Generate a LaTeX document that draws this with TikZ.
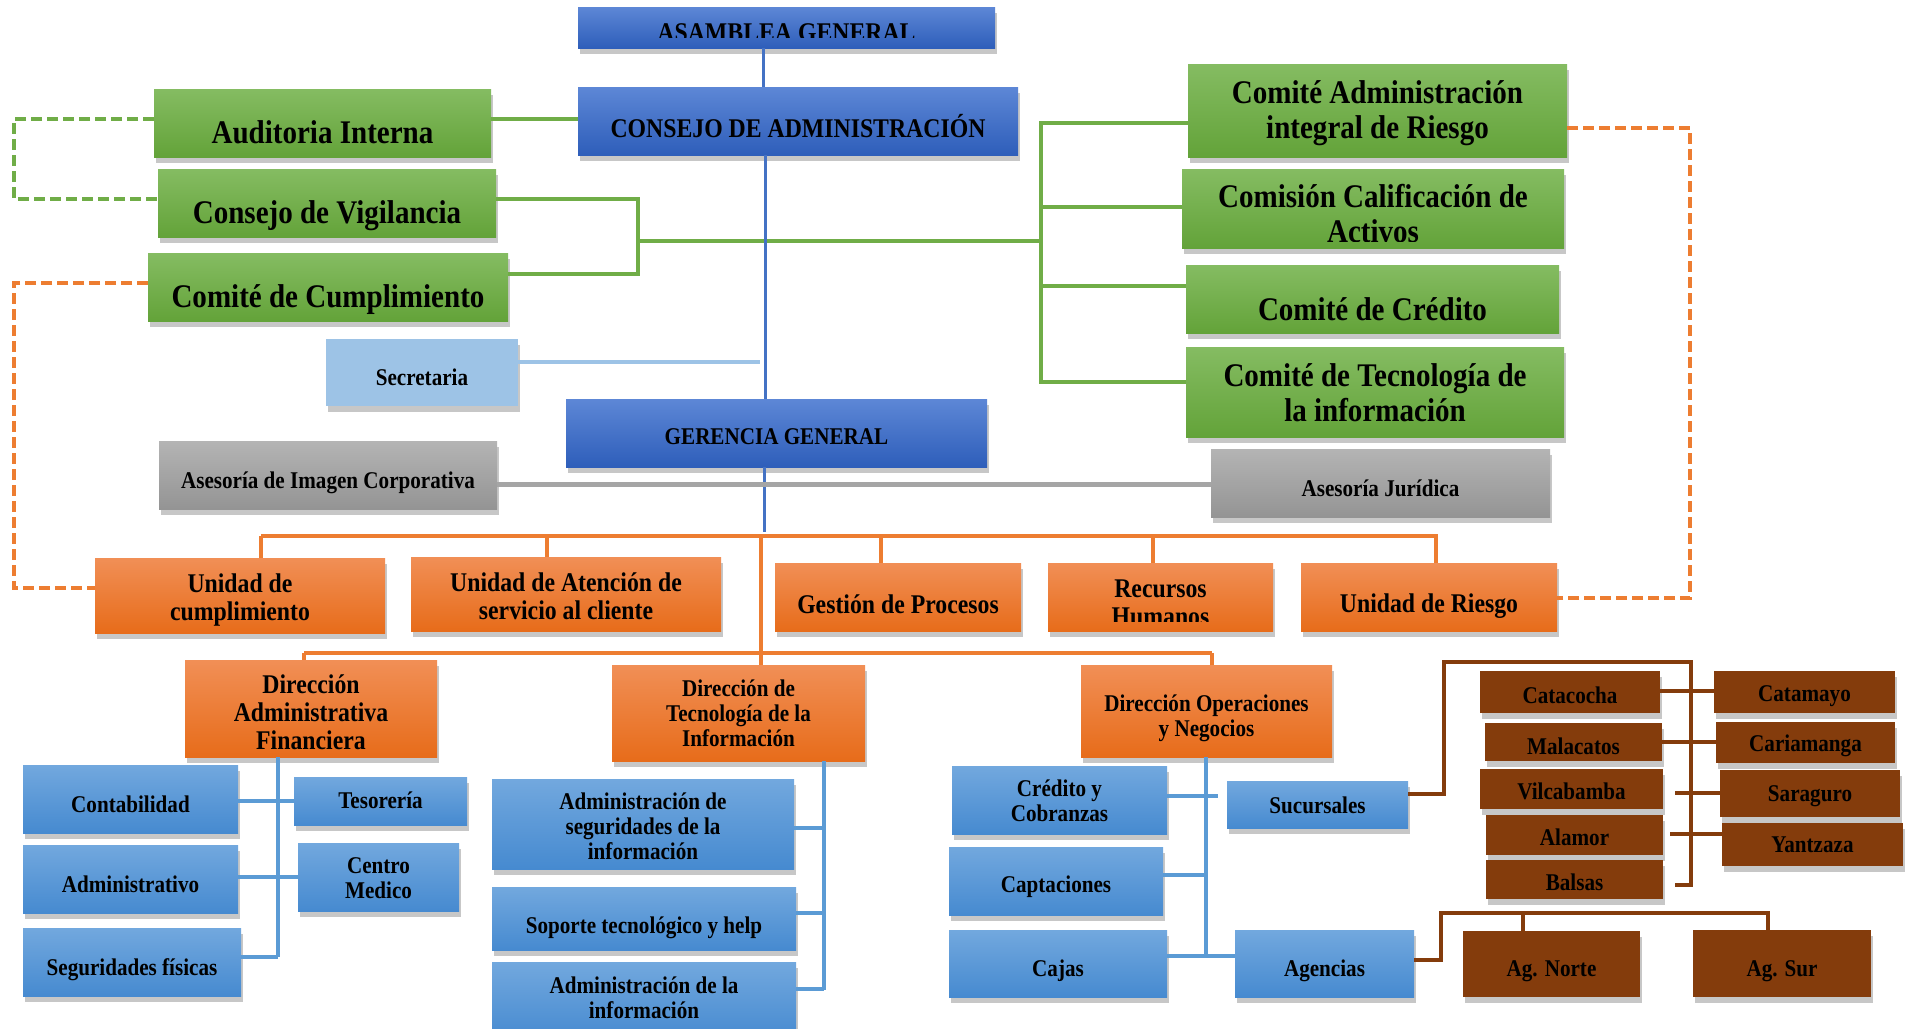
\documentclass[tikz,border=0pt]{standalone}
\usepackage{fontspec}
\setmainfont{Liberation Serif}[FakeStretch=0.88]
\usetikzlibrary{shadows}
\definecolor{dkT}{RGB}{93,135,214}
\definecolor{dkB}{RGB}{46,94,186}
\definecolor{dkL}{RGB}{68,114,196}
\definecolor{grT}{RGB}{133,188,98}
\definecolor{grB}{RGB}{99,163,57}
\definecolor{grL}{RGB}{112,173,71}
\definecolor{orT}{RGB}{241,143,86}
\definecolor{orB}{RGB}{231,108,26}
\definecolor{orL}{RGB}{237,125,49}
\definecolor{gyT}{RGB}{180,180,180}
\definecolor{gyB}{RGB}{148,148,148}
\definecolor{gyL}{RGB}{165,165,165}
\definecolor{mbT}{RGB}{114,168,222}
\definecolor{mbB}{RGB}{70,138,208}
\definecolor{mbL}{RGB}{91,155,213}
\definecolor{lbC}{RGB}{157,195,230}
\definecolor{brC}{RGB}{132,60,12}
\tikzset{
  shd/.style={drop shadow={shadow xshift=2pt,shadow yshift=-6pt,opacity=.22,fill=black}},
  boxbase/.style={shd, inner sep=0pt, outer sep=0pt},
  bdk/.style={boxbase, top color=dkT, bottom color=dkB},
  bgr/.style={boxbase, top color=grT, bottom color=grB},
  bor/.style={boxbase, top color=orT, bottom color=orB},
  bgy/.style={boxbase, top color=gyT, bottom color=gyB},
  bmb/.style={boxbase, top color=mbT, bottom color=mbB},
  blb/.style={boxbase, fill=lbC},
  bbr/.style={boxbase, fill=brC},
  txt/.style={inner sep=0pt, align=center, text=black},
  t33/.style={txt, font=\fontsize{33}{35}\selectfont\bfseries},
  t27/.style={txt, font=\fontsize{27}{28}\selectfont\bfseries},
  t24/.style={txt, font=\fontsize{24}{25}\selectfont\bfseries},
  lbd/.style={draw=dkL, line width=3pt},
  lg/.style={draw=grL, line width=4pt},
  lgd/.style={lg, dash pattern=on 11pt off 5pt},
  lo/.style={draw=orL, line width=3.5pt},
  lod/.style={lo, dash pattern=on 11pt off 5pt},
  llb/.style={draw=lbC, line width=4pt},
  lgy/.style={draw=gyL, line width=5pt},
  lmb/.style={draw=mbL, line width=3.5pt},
  lbr/.style={draw=brC, line width=4.5pt},
}
\newcommand\bxo[6]{\node[#6, minimum width={(#4-#2)*1pt}, minimum height={(#5-#3)*1pt}] (#1) at ({(#2+#4)/2},{(#3+#5)/2}) {};}
\newcommand\bx[9]{\bxo{#1}{#2}{#3}{#4}{#5}{#6}\node[#7] (#1t) at ({(#2+#4)/2},#8) {#9};}
\begin{document}
\begin{tikzpicture}[x=1pt,y=-1pt]
\useasboundingbox (0,0) rectangle (1910,1028);
\fill[white] (0,0) rectangle (1910,1028);
% --- top level
\bxo{asam}{578}{7}{995}{48}{bdk}
\begin{scope}\clip (578,7) rectangle (995,37);
\node[t27,anchor=base] (asamt) at (786.5,41) {ASAMBLEA GENERAL};
\end{scope}
\bx{cons}{578}{87}{1018}{155}{bdk}{t27}{126}{CONSEJO DE ADMINISTRACIÓN}
\bx{aud}{154}{89}{491}{157}{bgr}{t33}{132}{Auditoria Interna}
\bx{vig}{158}{169}{496}{237}{bgr}{t33}{216}{Consejo de Vigilancia}
\bx{cump}{148}{253}{508}{321}{bgr}{t33}{300}{Comité de Cumplimiento}
\bx{sec}{326}{339}{518}{406}{blb}{t24}{377}{Secretaria}
\bx{ger}{566}{399}{987}{467}{bdk}{t24}{437}{GERENCIA GENERAL}
\bx{asim}{159}{441}{497}{509}{bgy}{t24}{482.5}{Asesoría de Imagen Corporativa}
\bx{asjur}{1211}{449}{1550}{517}{bgy}{t24}{488}{Asesoría Jurídica}
\bx{cair}{1188}{64}{1567}{157}{bgr}{t33}{113}{Comité Administración\\integral de Riesgo}
\bxo{ccal}{1182}{169}{1564}{248}{bgr}
\begin{scope}\clip (1182,169) rectangle (1564,241);
\node[t33] (ccalt) at (1373,213.5) {Comisión Calificación de\\Activos};
\end{scope}
\bx{ccre}{1186}{265}{1559}{333}{bgr}{t33}{309}{Comité de Crédito}
\bx{ctec}{1186}{347}{1564}{437}{bgr}{t33}{393}{Comité de Tecnología de\\la información}
% --- orange level
\bx{ucum}{95}{558}{385}{633}{bor}{t27}{599.5}{Unidad de\\cumplimiento}
\bx{uat}{411}{557}{721}{631}{bor}{t27}{596}{Unidad de Atención de\\servicio al cliente}
\bx{gest}{775}{563}{1021}{631}{bor}{t27}{604}{Gestión de Procesos}
\bxo{rrhh}{1048}{563}{1273}{631}{bor}
\begin{scope}\clip (1048,563) rectangle (1273,621);
\node[t27] (rrhht) at (1160.5,602.5) {Recursos\\Humanos};
\end{scope}
\bx{uries}{1301}{563}{1557}{631}{bor}{t27}{606.5}{Unidad de Riesgo}
\bx{dadm}{185}{660}{437}{757}{bor}{t27}{712.5}{Dirección\\Administrativa\\Financiera}
\bx{dtec}{612}{665}{865}{761}{bor}{t24}{713}{Dirección de\\Tecnología de la\\Información}
\bx{dops}{1081}{665}{1332}{757}{bor}{t24}{718}{Dirección Operaciones\\y Negocios}
% --- blue lower level
\bx{cont}{23}{765}{238}{833}{bmb}{t24}{804.5}{Contabilidad}
\bx{adm}{23}{845}{238}{913}{bmb}{t24}{884.5}{Administrativo}
\bx{seg}{23}{928}{241}{996}{bmb}{t24}{969.5}{Seguridades físicas}
\bx{tes}{294}{777}{467}{825}{bmb}{t24}{800}{Tesorería}
\bx{cmed}{298}{843}{459}{911}{bmb}{t24}{878}{Centro\\Medico}
\bx{aseg}{492}{779}{794}{869}{bmb}{t24}{826.5}{Administración de\\seguridades de la\\información}
\bx{sop}{492}{887}{796}{950}{bmb}{t24}{928}{Soporte tecnológico y help}
\bx{ainf}{492}{962}{796}{1040}{bmb}{t24}{997.5}{Administración de la\\información}
\bx{cred}{952}{766}{1167}{834}{bmb}{t24}{801}{Crédito y\\Cobranzas}
\bx{capt}{949}{847}{1163}{915}{bmb}{t24}{887}{Captaciones}
\bx{cajas}{949}{930}{1167}{997}{bmb}{t24}{971}{Cajas}
\bx{suc}{1227}{781}{1408}{828}{bmb}{t24}{805}{Sucursales}
\bx{agen}{1235}{930}{1414}{997}{bmb}{t24}{971}{Agencias}
% --- brown
\bx{cata}{1480}{671}{1660}{713}{bbr}{t24}{695}{Catacocha}
\bx{catm}{1714}{671}{1895}{713}{bbr}{t24}{696}{Catamayo}
\bxo{mala}{1485}{723}{1662}{761}{bbr}
\begin{scope}\clip (1485,723) rectangle (1662,754);
\node[t24] (malat) at (1573.5,746) {Malacatos};
\end{scope}
\bx{cari}{1716}{722}{1895}{763}{bbr}{t24}{746}{Cariamanga}
\bx{vilc}{1480}{769}{1663}{809}{bbr}{t24}{791}{Vilcabamba}
\bx{sara}{1720}{770}{1900}{817}{bbr}{t24}{796}{Saraguro}
\bx{alam}{1486}{815}{1663}{855}{bbr}{t24}{837.5}{Alamor}
\bx{yan}{1722}{823}{1903}{866}{bbr}{t24}{845}{Yantzaza}
\bx{bals}{1486}{860}{1663}{899}{bbr}{t24}{882.5}{Balsas}
\bx{agn}{1463}{931}{1640}{997}{bbr}{t24}{971}{Ag. Norte}
\bx{agsur}{1693}{930}{1871}{997}{bbr}{t24}{971}{Ag. Sur}
% --- green connectors
\draw[lg] (aud.east |- 0,119) -- (cons.west |- 0,119);
\coordinate (gl1) at (638,199);
\coordinate (gl2) at (638,274);
\coordinate (gm) at (638,241);
\coordinate (gr) at (1041,241);
\draw[lg] (vig.east |- 0,199) -- (gl1) -- (gl2) -- (cump.east |- 0,274);
\draw[lg] (gm) -- (gr);
\draw[lg] (cair.west |- 0,123) -- (1041,123) -- (1041,382) -- (ctec.west |- 0,382);
\draw[lg] (1041,207) -- (ccal.west |- 0,207);
\draw[lg] (1041,286) -- (ccre.west |- 0,286);
\draw[lgd] (aud.west |- 0,119) -- (14,119) -- (14,199) -- (vig.west |- 0,199);
% --- dashed orange
\draw[lod] (cump.west |- 0,283) -- (14,283) -- (14,588) -- (ucum.west |- 0,588);
\draw[lod] (cair.east |- 0,128) -- (1690,128) -- (1690,598) -- (uries.east |- 0,598);
% --- blue spine
\draw[lbd] (asam.south -| 763,0) -- (cons.north -| 763,0);
\draw[lbd] (cons.south -| 765,0) -- (ger.north -| 765,0);
\draw[lbd] (ger.south -| 764,0) -- (764,532);
% --- secretaria & advisors
\draw[llb] (sec.east |- 0,362) -- (760,362);
\draw[lgy] (asim.east |- 0,484) -- (asjur.west |- 0,484);
% --- orange buses
\draw[lo] (261,536) -- (1438,536);
\draw[lo] (ucum.north -| 261,0) -- (261,536);
\draw[lo] (uat.north -| 547,0) -- (547,536);
\draw[lo] (gest.north -| 881,0) -- (881,536);
\draw[lo] (rrhh.north -| 1153,0) -- (1153,536);
\draw[lo] (uries.north -| 1436,0) -- (1436,536);
\draw[lo] (761,536) -- (761,653);
\draw[lo] (304,653) -- (1212,653);
\draw[lo] (dadm.north -| 304,0) -- (304,653);
\draw[lo] (dtec.north -| 761,0) -- (761,653);
\draw[lo] (dops.north -| 1212,0) -- (1212,653);
% --- lower blue connectors
\draw[lmb] (dadm.south -| 278,0) -- (278,957);
\draw[lmb] (cont.east |- 0,801) -- (tes.west |- 0,801);
\draw[lmb] (adm.east |- 0,877) -- (cmed.west |- 0,877);
\draw[lmb] (seg.east |- 0,957) -- (278,957);
\draw[lmb] (dtec.south -| 824,0) -- (824,990);
\draw[lmb] (aseg.east |- 0,828) -- (824,828);
\draw[lmb] (sop.east |- 0,913) -- (824,913);
\draw[lmb] (ainf.east |- 0,989) -- (824,989);
\draw[lmb] (dops.south -| 1206,0) -- (1206,957);
\draw[lmb] (cred.east |- 0,796) -- (1218,796);
\draw[lmb] (capt.east |- 0,875) -- (1206,875);
\draw[lmb] (cajas.east |- 0,956) -- (agen.west |- 0,956);
% --- brown connectors
\draw[lbr] (suc.east |- 0,794) -- (1444,794) -- (1444,662) -- (1691,662) -- (1691,885) -- (1675,885);
\draw[lbr] (cata.east |- 0,691) -- (catm.west |- 0,691);
\draw[lbr] (mala.east |- 0,742) -- (cari.west |- 0,742);
\draw[lbr] (1675,793) -- (sara.west |- 0,793);
\draw[lbr] (1670,834) -- (yan.west |- 0,834);
\draw[lbr] (agen.east |- 0,960) -- (1441,960) -- (1441,913) -- (1768,913) -- (agsur.north -| 1768,0);
\draw[lbr] (1523,913) -- (agn.north -| 1523,0);
\end{tikzpicture}
\end{document}
